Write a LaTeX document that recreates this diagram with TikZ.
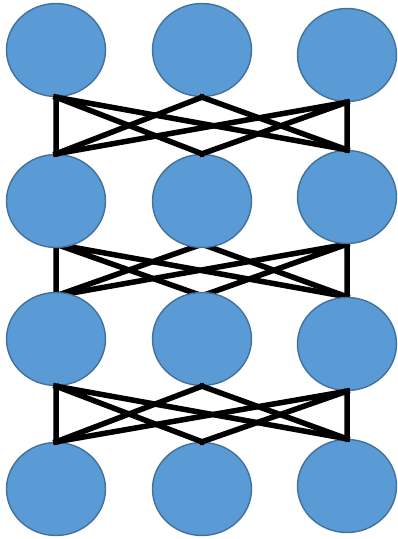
\documentclass[tikz,border=0pt]{standalone}
\usetikzlibrary{shapes.geometric,backgrounds}

\definecolor{cellfill}{HTML}{5B9BD5}
\definecolor{celledge}{HTML}{41719C}

\begin{document}
\begin{tikzpicture}[x=1pt,y=-1pt]
  \useasboundingbox (0,0) rectangle (398,539);
  \tikzset{unit/.style={ellipse,fill=cellfill,draw=celledge,line width=1.4pt,minimum width=99pt,minimum height=93pt,inner sep=0pt}}
  \tikzset{link/.style={black,line width=5.5pt,line cap=rect}}

  % Four layers of three units; the right column sits a little off the row.
  \node[unit] (a1) at (56,50) {};
  \node[unit] (a2) at (202,50) {};
  \node[unit] (a3) at (347,55) {};
  \node[unit] (b1) at (56,201) {};
  \node[unit] (b2) at (202,201) {};
  \node[unit] (b3) at (347,197) {};
  \node[unit] (c1) at (56,339) {};
  \node[unit] (c2) at (202,339) {};
  \node[unit] (c3) at (347,344) {};
  \node[unit] (d1) at (56,489) {};
  \node[unit] (d2) at (202,489) {};
  \node[unit] (d3) at (347,486) {};

  % Each unit is joined to every unit of the next layer but its own column's middle one.
  \draw[link] (a1.south) -- (b1.north) (a1.south) -- (b2.north) (a1.south) -- (b3.north);
  \draw[link] (a2.south) -- (b1.north) (a2.south) -- (b3.north);
  \draw[link] (a3.south) -- (b1.north) (a3.south) -- (b2.north) (a3.south) -- (b3.north);

  % The middle links start a little inside the units and run behind them.
  \begin{pgfonlayer}{background}
    \tikzset{from/.style={yshift=4pt},to/.style={yshift=-4pt}}
    \draw[link] ([from]b1.south) -- ([to]c1.north) ([from]b1.south) -- ([to]c2.north) ([from]b1.south) -- (c3.north);
    \draw[link] ([from]b2.south) -- ([to]c1.north) ([from]b2.south) -- (c3.north);
    \draw[link] (b3.south) -- ([to]c1.north) (b3.south) -- ([to]c2.north) (b3.south) -- (c3.north);
  \end{pgfonlayer}

  \draw[link] (c1.south) -- (d1.north) (c1.south) -- (d2.north) (c1.south) -- (d3.north);
  \draw[link] (c2.south) -- (d1.north) (c2.south) -- (d3.north);
  \draw[link] (c3.south) -- (d1.north) (c3.south) -- (d2.north) (c3.south) -- (d3.north);
\end{tikzpicture}
\end{document}
